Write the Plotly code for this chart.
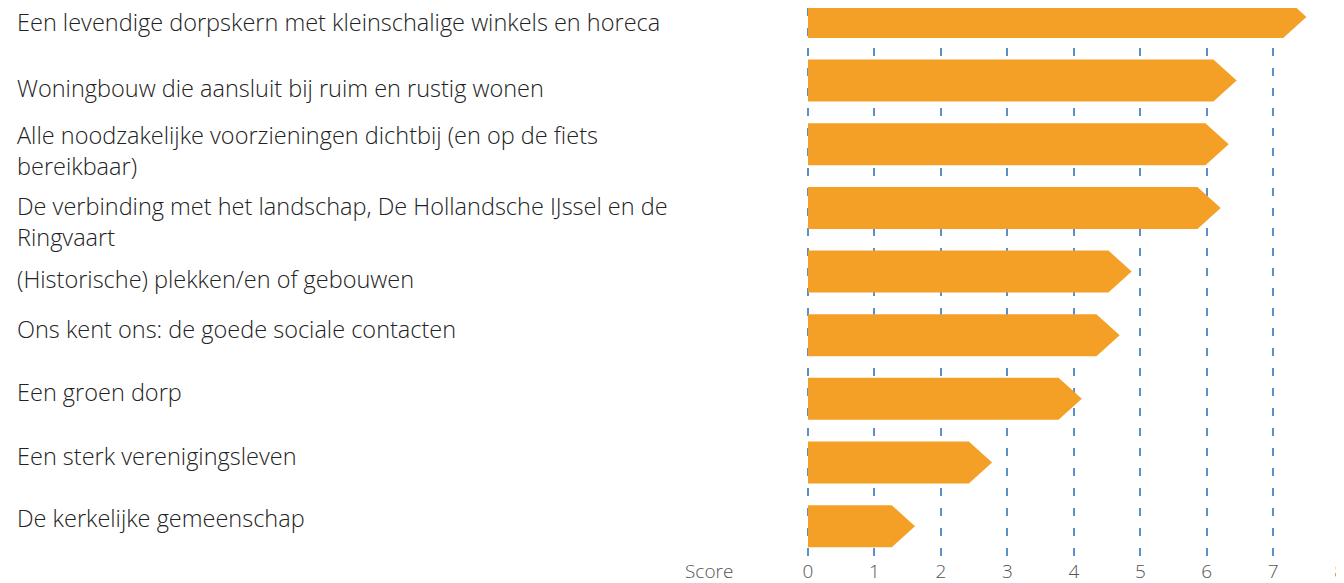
import plotly.graph_objects as go

categories = [
    "Een levendige dorpskern met kleinschalige winkels en horeca",
    "Woningbouw die aansluit bij ruim en rustig wonen",
    "Alle noodzakelijke voorzieningen dichtbij (en op de fiets<br>bereikbaar)",
    "De verbinding met het landschap, De Hollandsche IJssel en de<br>Ringvaart",
    "(Historische) plekken/en of gebouwen",
    "Ons kent ons: de goede sociale contacten",
    "Een groen dorp",
    "Een sterk verenigingsleven",
    "De kerkelijke gemeenschap",
]
scores = [7.5, 6.45, 6.33, 6.21, 4.87, 4.69, 4.12, 2.77, 1.61]
tick_values = [0, 1, 2, 3, 4, 5, 6, 7, 8]

ORANGE = "#F4A026"
GRID = "#5B8FC9"
FONT = "Open Sans"

head = 0.35   # arrow head length in score units
half = 0.33   # half bar thickness in category units
# small vertical nudges (px) so the labels sit like in the original
label_nudge = [-5, -7, -6, -14, -7, 6, 7, 7, 8]

fig = go.Figure()
for i, (name, v) in enumerate(zip(categories, scores)):
    xs = [0, v - head, v, v - head, 0, 0]
    ys = [i - half, i - half, i, i + half, i + half, i - half]
    fig.add_trace(go.Scatter(x=xs, y=ys, mode="lines", fill="toself",
                             fillcolor=ORANGE, line=dict(width=0, color=ORANGE),
                             hoverinfo="text", text=f"{v}", showlegend=False))
    fig.add_annotation(x=0, xref="paper", xshift=-791, y=i, yref="y",
                       yshift=label_nudge[i],
                       text=name, showarrow=False, xanchor="left", yanchor="middle",
                       align="left",
                       font=dict(family=FONT, size=23.5, weight=300, color="#222222"))

fig.add_annotation(x=0, xref="paper", xshift=-71, y=0, yref="paper", yshift=-13,
                   text="Score", showarrow=False, xanchor="right", yanchor="middle",
                   font=dict(family=FONT, size=19, weight=300, color="#555555"))

# the page adds an 8px body margin, so the figure is offset by 8px
fig.update_layout(
    width=1344, height=583,
    margin=dict(l=798, r=9, t=0, b=33),
    plot_bgcolor="white", paper_bgcolor="white",
    xaxis=dict(range=[-0.03, 8.05], tickvals=tick_values, showgrid=True,
               gridcolor=GRID, gridwidth=2, griddash="8px,12px", zeroline=False,
               showline=False, ticks="", automargin=False,
               tickfont=dict(family=FONT, size=19, weight=300, color="#555555")),
    yaxis=dict(range=[8.50, -0.14], showticklabels=False, showgrid=False,
               zeroline=False, showline=False, automargin=False),
)

fig.write_html("out.html")
